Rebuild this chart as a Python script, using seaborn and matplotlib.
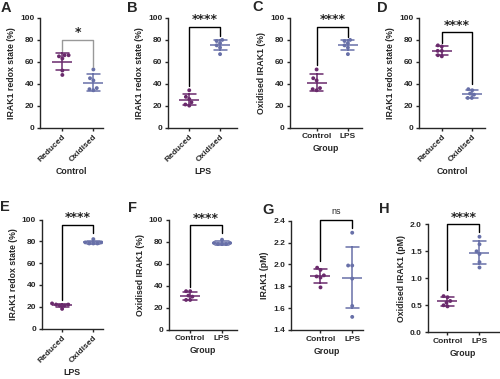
import numpy as np
import pandas as pd
import matplotlib
matplotlib.use("Agg")
import matplotlib.pyplot as plt
import seaborn as sns

# ---- data ----
a_cats = ["Reduced", "Oxidised"]
a_reduced = [66, 66, 65, 63, 52, 48]
a_oxidised = [53, 45, 43, 35, 34, 36]

b_cats = ["Reduced", "Oxidised"]
b_reduced = [34, 28, 26, 23, 21, 20]
b_oxidised = [80, 79, 77, 75, 73, 67]

c_cats = ["Control", "LPS"]
c_control = [53, 45, 43, 35, 34, 36]
c_lps = [80, 79, 77, 75, 73, 67]

d_cats = ["Reduced", "Oxidised"]
d_reduced = [75, 74, 70, 70, 66, 65]
d_oxidised = [35, 34, 31, 30, 27, 27]

e_cats = ["Reduced", "Oxidised"]
e_reduced = [23, 22, 22, 21, 21, 18]
e_oxidised = [82, 79, 79, 78, 78, 78]

f_cats = ["Control", "LPS"]
f_control = [35, 35, 31, 30, 27, 27]
f_lps = [82, 79, 79, 78, 78, 78]

g_cats = ["Control", "LPS"]
g_control = [1.97, 1.95, 1.90, 1.89, 1.88, 1.79]
g_lps = [2.29, 1.99, 1.99, 1.87, 1.62, 1.52]

h_cats = ["Control", "LPS"]
h_control = [0.67, 0.65, 0.58, 0.55, 0.50, 0.48]
h_lps = [1.77, 1.63, 1.50, 1.45, 1.30, 1.20]

sig_labels = ["*", "****", "****", "****", "****", "****", "ns", "****"]

# ---- style ----
sns.set_style("ticks")
plt.rcParams["font.family"] = ["Liberation Sans", "DejaVu Sans"]
plt.rcParams["font.weight"] = "bold"
plt.rcParams["axes.labelweight"] = "bold"
plt.rcParams["axes.linewidth"] = 1.0
plt.rcParams["xtick.major.width"] = 1.0
plt.rcParams["ytick.major.width"] = 1.0
plt.rcParams["xtick.major.size"] = 2.5
plt.rcParams["ytick.major.size"] = 2.5
plt.rcParams["xtick.labelsize"] = 6
plt.rcParams["ytick.labelsize"] = 6
plt.rcParams["axes.labelsize"] = 6.3

PURPLE = "#6a2a6c"
BLUE = "#6870a8"

W, H = 500, 379
fig = plt.figure(figsize=(W / 100, H / 100), dpi=100)


def make_ax(left, top, right, bottom):
    return fig.add_axes([left / W, 1 - bottom / H, (right - left) / W, (bottom - top) / H])


def panel(box, cats, v1, v2, xlim, ylim, yticks, ylabel, xlabel, rotate,
          bracket, sig, sig_color="black", letter=None, letter_pos=None, tickfmt=None):
    ax = make_ax(*box)
    df = pd.DataFrame({"cat": [cats[0]] * len(v1) + [cats[1]] * len(v2),
                       "val": list(v1) + list(v2)})
    pal = {cats[0]: PURPLE, cats[1]: BLUE}
    sns.swarmplot(data=df, x="cat", y="val", hue="cat", order=cats, palette=pal,
                  size=2.8, ax=ax, legend=False, zorder=3)
    sns.pointplot(data=df, x="cat", y="val", hue="cat", order=cats, palette=pal,
                  errorbar="sd", capsize=0.42, markers="_", markersize=14,
                  markeredgewidth=1.1, linestyle="none", err_kws={"linewidth": 1.1},
                  legend=False, ax=ax)
    ax.set_xlim(*xlim)
    ax.set_ylim(*ylim)
    ax.set_yticks(yticks)
    if tickfmt:
        ax.set_yticklabels([tickfmt.format(t) for t in yticks])
    ax.set_xticks([0, 1])
    if rotate:
        ax.set_xticklabels(cats, rotation=45, ha="right", rotation_mode="anchor")
    else:
        ax.set_xticklabels(cats)
    ax.set_ylabel(ylabel, labelpad=3)
    ax.set_xlabel(xlabel, labelpad=3)
    ax.tick_params(axis="both", pad=1.5)
    sns.despine(ax=ax)
    # significance bracket
    y_left, y_top, y_right = bracket
    ax.plot([0, 0, 1, 1], [y_left, y_top, y_top, y_right], color=sig_color,
            lw=1.0, clip_on=False, zorder=4)
    span = ylim[1] - ylim[0]
    if sig == "ns":
        ax.text(0.5, y_top + span * 0.03, sig, ha="center", va="bottom",
                fontsize=6.5, fontweight="normal", clip_on=False)
    else:
        ax.text(0.5, y_top + span * 0.005, sig, ha="center", va="bottom",
                fontsize=9, fontweight="bold", family="DejaVu Sans",
                color="#222222", clip_on=False)
    return ax


pct_ticks = [0, 20, 40, 60, 80, 100]
lab_redox = "IRAK1 redox state (%)"
lab_ox = "Oxidised IRAK1 (%)"

panel((40, 18, 103, 127.5), a_cats, a_reduced, a_oxidised, (-0.72, 1.31), (0, 100),
      pct_ticks, lab_redox, "Control", True, (70, 80, 55), sig_labels[0], sig_color="#999999")
panel((168, 18, 237, 127.5), b_cats, b_reduced, b_oxidised, (-0.69, 1.55), (0, 100),
      pct_ticks, lab_redox, "LPS", True, (38, 92, 84), sig_labels[1])
panel((290, 18, 362, 127.5), c_cats, c_control, c_lps, (-0.85, 1.45), (0, 100),
      pct_ticks, lab_ox, "Group", False, (57, 92, 83), sig_labels[2])
panel((419, 18, 485, 127.5), d_cats, d_reduced, d_oxidised, (-0.76, 1.44), (0, 100),
      pct_ticks, lab_redox, "Control", True, (77, 87, 40), sig_labels[3])
panel((41.5, 219.5, 103, 328.5), e_cats, e_reduced, e_oxidised, (-0.66, 1.31), (0, 100),
      pct_ticks, lab_redox, "LPS", True, (26, 95, 88), sig_labels[4])
panel((168.5, 220, 237, 329.5), f_cats, f_control, f_lps, (-0.68, 1.47), (0, 100),
      pct_ticks, lab_ox, "Group", False, (39, 95, 88), sig_labels[5])
panel((291, 220.7, 363, 330), g_cats, g_control, g_lps, (-0.93, 1.34), (1.4, 2.4),
      [1.4, 1.6, 1.8, 2.0, 2.2, 2.4], "IRAK1 (pM)", "Group", False, (2.03, 2.41, 2.33),
      sig_labels[6], tickfmt="{:.1f}")
panel((427.5, 224.3, 499, 332.3), h_cats, h_control, h_lps, (-0.625, 1.61), (0, 2.0),
      [0.0, 0.5, 1.0, 1.5, 2.0], "Oxidised IRAK1 (pM)", "Group", False, (0.78, 2.0, 1.85),
      sig_labels[7], tickfmt="{:.1f}")

letters = [("A", 1, 1), ("B", 127, 1), ("C", 252, 0), ("D", 377, 1),
           ("E", 0, 200), ("F", 128, 201), ("G", 262, 203), ("H", 379, 202)]
for t, x, y in letters:
    fig.text(x / W, 1 - y / H, t, ha="left", va="top", fontsize=10.5, fontweight="bold")

fig.savefig("out.png", dpi=100)
